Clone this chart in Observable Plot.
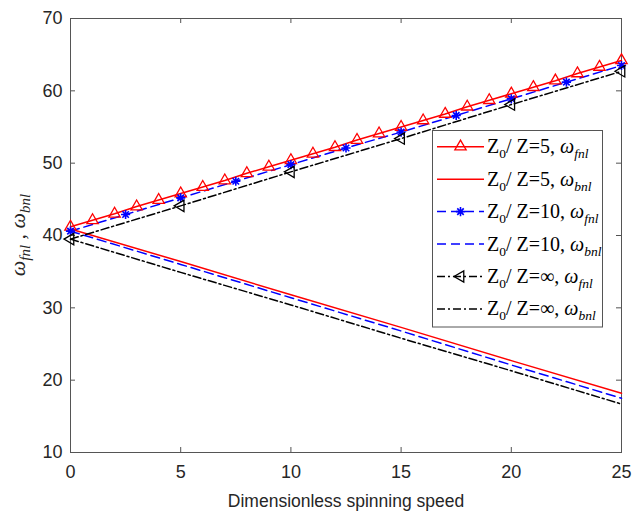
<!DOCTYPE html>
<html><head><meta charset="utf-8">
<script src="https://cdn.jsdelivr.net/npm/d3@7"></script>
<script src="https://cdn.jsdelivr.net/npm/@observablehq/plot@0.6"></script>
<style>
body{margin:0;background:#fff}
#chart{position:relative;width:644px;height:514px}
</style>
</head><body><div id="chart"></div>
<script>
// ---- data ----
const speedRed = [0,1,2,3,4,5,6,7,8,9,10,11,12,13,14,15,16,17,18,19,20,21,22,23,24,25];
const fnlZ5 = [41.2,42.1,43.0,44.0,44.9,45.8,46.7,47.6,48.6,49.5,50.4,51.3,52.2,53.2,54.1,55.0,55.9,56.8,57.8,58.7,59.6,60.5,61.4,62.4,63.3,64.2];
const speedBlue = [0,2.5,5,7.5,10,12.5,15,17.5,20,22.5,25];
const fnlZ10 = [40.6,42.9,45.2,47.5,49.8,52.1,54.3,56.6,58.9,61.2,63.5];
const speedBlack = [0,5,10,15,20,25];
const fnlZinf = [39.5,44.1,48.8,53.4,58.1,62.7];
const speedBnl = [0,5,10,15,20,25];
const bnlZ5 = [40.9,36.4,31.8,27.3,22.7,18.2];
const bnlZ10 = [40.6,36.0,31.4,26.8,22.1,17.5];
const bnlZinf = [39.5,34.9,30.4,25.8,21.3,16.7];
const xTicks = [0,5,10,15,20,25];
const yTicks = [10,20,30,40,50,60,70];
const legendRatios = ["5","5","10","10","\u221E","\u221E"];
const legendSubs = ["fnl","bnl","fnl","bnl","fnl","bnl"];
const xTitle = "Dimensionless spinning speed";

// ---- styles ----
const W=644, H=514, mL=70, mR=23, mT=18, mB=62;
const plotW = W-mL-mR, plotH = H-mT-mB, tk = 5;
const axisColor = "#262626";
const asterisk8 = {draw(ctx, size){
  const r = Math.sqrt(size/Math.PI), d = r*Math.SQRT1_2;
  ctx.moveTo(-r,0); ctx.lineTo(r,0); ctx.moveTo(0,-r); ctx.lineTo(0,r);
  ctx.moveTo(-d,-d); ctx.lineTo(d,d); ctx.moveTo(-d,d); ctx.lineTo(d,-d);
}};
const styles = [
  {stroke:"#ff0000", dash:null, symbol:"triangle", rotate:0, r:4.2, sw:1.3},
  {stroke:"#ff0000", dash:null, symbol:null},
  {stroke:"#0000ff", dash:"9,5", symbol:asterisk8, rotate:0, r:4.6, sw:1.6},
  {stroke:"#0000ff", dash:"9,5", symbol:null},
  {stroke:"#000000", dash:"8,3,2,3", symbol:"triangle", rotate:-90, r:4.2, sw:1.3},
  {stroke:"#000000", dash:"8,3,2,3", symbol:null}
];

const toPts = (xs, ys) => xs.map((x,i)=>({x, y:ys[i]}));
const series = [
  toPts(speedRed, fnlZ5), toPts(speedBnl, bnlZ5),
  toPts(speedBlue, fnlZ10), toPts(speedBnl, bnlZ10),
  toPts(speedBlack, fnlZinf), toPts(speedBnl, bnlZinf)
];

const dataMarks = [];
series.forEach((pts, i) => {
  const s = styles[i];
  dataMarks.push(Plot.line(pts, {x:"x", y:"y", stroke:s.stroke, strokeWidth:1.5, strokeDasharray:s.dash}));
});
series.forEach((pts, i) => {
  const s = styles[i];
  if (s.symbol) dataMarks.push(Plot.dot(pts, {x:"x", y:"y", symbol:s.symbol, r:s.r, rotate:s.rotate, stroke:s.stroke, fill:"none", strokeWidth:s.sw}));
});

const chart = Plot.plot({
  width:W, height:H, marginLeft:mL, marginRight:mR, marginTop:mT, marginBottom:mB,
  style:{fontFamily:"'Liberation Sans', Arial, Helvetica, sans-serif", fontSize:"18px", color:axisColor, background:"white"},
  x:{domain:[0,25]},
  y:{domain:[10,70]},
  marks:[
    Plot.axisX(xTicks, {anchor:"bottom", tickSize:0, tickPadding:13, fontSize:18, label:null}),
    Plot.axisY(yTicks, {anchor:"left", tickSize:0, tickPadding:8, fontSize:18, label:null}),
    Plot.tickX(xTicks, {x:d=>d, insetTop:plotH-tk, stroke:axisColor, strokeWidth:0.8}),
    Plot.tickX(xTicks, {x:d=>d, insetBottom:plotH-tk, stroke:axisColor, strokeWidth:0.8}),
    Plot.tickY(yTicks, {y:d=>d, insetRight:plotW-tk, stroke:axisColor, strokeWidth:0.8}),
    Plot.tickY(yTicks, {y:d=>d, insetLeft:plotW-tk, stroke:axisColor, strokeWidth:0.8}),
    Plot.frame({stroke:"#555", strokeWidth:1}),
    ...dataMarks,
    Plot.text([xTitle], {text:d=>d, frameAnchor:"bottom", lineAnchor:"bottom", dy:54, fontSize:17.5, fill:axisColor})
  ]
});
document.getElementById("chart").appendChild(chart);

// ---- rich text: y-axis title and legend ----
const svg = d3.select(chart);
const serif = "'Liberation Serif', 'Times New Roman', serif";
const yt = svg.append("text")
  .attr("transform", `translate(25,${mT+plotH/2}) rotate(-90)`)
  .attr("text-anchor","middle").attr("font-family", serif).attr("font-size", 22)
  .attr("font-style","italic").attr("fill", axisColor);
yt.append("tspan").text("\u03C9");
yt.append("tspan").attr("font-size",15).attr("dy",5).text("fnl");
yt.append("tspan").attr("dy",-5).text(" , \u03C9");
yt.append("tspan").attr("font-size",15).attr("dy",5).text("bnl");

const lg = svg.append("g");
const bx0 = 432.5, by0 = 130.5, bx1 = 602.5, by1 = 327;
lg.append("rect").attr("x",bx0).attr("y",by0).attr("width",bx1-bx0).attr("height",by1-by0)
  .attr("fill","white").attr("stroke","#555").attr("stroke-width",1);
const rowY = i => 146.7 + i*32.45;
styles.forEach((s, i) => {
  const y = rowY(i);
  lg.append("line").attr("x1",437).attr("x2",484).attr("y1",y).attr("y2",y)
    .attr("stroke", s.stroke).attr("stroke-width",1.5).attr("stroke-dasharray", s.dash);
  if (s.symbol) {
    const sym = typeof s.symbol === "string" ? d3.symbolTriangle : s.symbol;
    lg.append("path").attr("d", d3.symbol(sym, s.r*s.r*Math.PI)())
      .attr("transform", `translate(460.5,${y}) rotate(${s.rotate})`)
      .attr("fill","none").attr("stroke", s.stroke).attr("stroke-width",s.sw);
  }
  const t = lg.append("text").attr("x",487).attr("y", y+6.5).attr("text-anchor","start")
    .attr("font-family", serif).attr("font-size",20).attr("fill","#000");
  t.append("tspan").text("Z");
  t.append("tspan").attr("font-size",13.5).attr("dy",5).text("0");
  t.append("tspan").attr("dy",-5).text(`/ Z=${legendRatios[i]}, `);
  t.append("tspan").attr("font-style","italic").text("\u03C9");
  t.append("tspan").attr("font-style","italic").attr("font-size",13.5).attr("dy",5).text(legendSubs[i]);
});
</script>
</body></html>
